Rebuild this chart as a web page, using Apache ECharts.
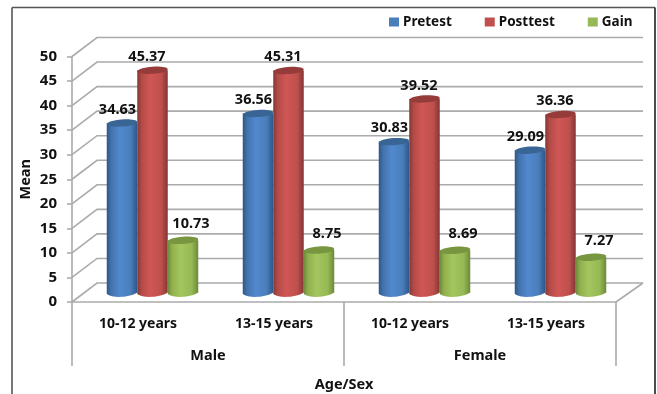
<!DOCTYPE html>
<html>
<head>
<meta charset="utf-8">
<style>html,body{margin:0;padding:0;background:#fff}#c{width:657px;height:394px}</style>
<script src="https://cdn.jsdelivr.net/npm/echarts@6/dist/echarts.min.js"></script>
</head>
<body>
<div id="c"></div>
<script>
var ageGroups = ['10-12 years', '13-15 years', '10-12 years', '13-15 years'];
var sexGroups = ['Male', 'Female'];
var pretest = [34.63, 36.56, 30.83, 29.09];
var posttest = [45.37, 45.31, 39.52, 36.36];
var gain = [10.73, 8.75, 8.69, 7.27];
var yTicks = [0, 5, 10, 15, 20, 25, 30, 35, 40, 45, 50];

var FONT = '"Noto Sans", sans-serif';
var GRID_COLOR = '#ABABAB';
var DEPTH_X = 25, DEPTH_Y = -19;
var BAR_SHIFT_X = 12.5, BAR_SHIFT_Y = -9;
var BAR_W = 30.5, RY = 3.6;

var chart = echarts.init(document.getElementById('c'), null, {renderer: 'canvas'});

function wallItem(params, api) {
  var v = api.value(1);
  var y = api.coord([0, v])[1];
  var cs = params.coordSys;
  var x0 = cs.x, x1 = cs.x + cs.width;
  var children = [{
    type: 'polyline',
    shape: {points: [[x0, y], [x0 + DEPTH_X, y + DEPTH_Y], [x1 + DEPTH_X + 2, y + DEPTH_Y]]},
    style: {stroke: GRID_COLOR, lineWidth: 1.6, fill: null}
  }];
  if (v === 0) {
    children.push({
      type: 'line',
      shape: {x1: x1, y1: y, x2: x1 + DEPTH_X + 2, y2: y + DEPTH_Y},
      style: {stroke: GRID_COLOR, lineWidth: 1.6}
    });
  }
  return {type: 'group', children: children};
}

function cylinderSeries(name, values, slot, colors, labelDx, labelDy) {
  return {
    name: name,
    type: 'custom',
    coordinateSystem: 'cartesian2d',
    itemStyle: {color: colors.main},
    clip: false,
    z: 3 + slot,
    data: values.map(function (v, i) { return [i, v]; }),
    encode: {x: 0, y: 1},
    renderItem: function (params, api) {
      var top = api.coord([api.value(0), api.value(1)]);
      var base = api.coord([api.value(0), 0]);
      var cx = top[0] + BAR_SHIFT_X + slot * BAR_W;
      var ty = top[1] + BAR_SHIFT_Y;
      var by = base[1] + BAR_SHIFT_Y + 1;
      var l = cx - BAR_W / 2;
      var grad = new echarts.graphic.LinearGradient(0, 0, 1, 0, [
        {offset: 0, color: colors.edge},
        {offset: 0.14, color: colors.mid},
        {offset: 0.42, color: colors.light},
        {offset: 0.78, color: colors.main},
        {offset: 1, color: colors.edge}
      ]);
      return {
        type: 'group',
        children: [
          {
            type: 'path',
            shape: {
              pathData: 'M' + l + ' ' + ty + 'L' + l + ' ' + by +
                'C' + (l + 6) + ' ' + (by + RY + 1) + ' ' + (l + BAR_W - 8) + ' ' + (by + RY) + ' ' + (l + BAR_W) + ' ' + (by - 1.5) +
                'L' + (l + BAR_W) + ' ' + ty + 'Z',
              layout: 'none'
            },
            style: {fill: grad}
          },
          {
            type: 'ellipse',
            shape: {cx: cx, cy: ty, rx: BAR_W / 2, ry: RY},
            rotation: 0.07,
            originX: cx,
            originY: ty,
            style: {fill: colors.top}
          },
          {
            type: 'text',
            z2: 50,
            style: {
              text: api.value(1).toFixed(2),
              x: cx + labelDx,
              y: ty + labelDy,
              align: 'center',
              verticalAlign: 'middle',
              fill: '#111',
              font: 'bold 14.5px ' + FONT
            }
          }
        ]
      };
    }
  };
}

var blue = {main: '#4A7EBB', mid: '#4272AB', light: '#5289CE', edge: '#2E5686', top: '#386594'};
var red = {main: '#C0504D', mid: '#B34A47', light: '#CF5755', edge: '#843634', top: '#953C3A'};
var green = {main: '#97B955', mid: '#90B04F', light: '#A4C65E', edge: '#6C8A38', top: '#78953F'};

chart.setOption({
  animation: false,
  backgroundColor: '#ffffff',
  textStyle: {fontFamily: FONT},
  graphic: [
    {type: 'line', shape: {x1: 12, y1: 7.5, x2: 12, y2: 394}, style: {stroke: '#777', lineWidth: 2}},
    {type: 'line', shape: {x1: 12, y1: 7.5, x2: 655, y2: 7.5}, style: {stroke: '#555', lineWidth: 1.5}},
    {type: 'line', shape: {x1: 655, y1: 7.5, x2: 655, y2: 394}, style: {stroke: '#111', lineWidth: 1.5}}
  ],
  legend: {
    data: ['Pretest', 'Posttest', 'Gain'],
    left: 389,
    top: 15,
    padding: 0,
    itemWidth: 10,
    itemHeight: 9,
    itemGap: 33,
    icon: 'rect',
    textStyle: {fontFamily: FONT, fontWeight: 'bold', fontSize: 13.5, color: '#111', padding: [0, 0, 0, -1]}
  },
  grid: {left: 72, top: 56.5, width: 544, height: 245.5, outerBoundsMode: 'none'},
  xAxis: [
    {
      type: 'category',
      data: ageGroups,
      position: 'bottom',
      axisLine: {show: true, lineStyle: {color: GRID_COLOR, width: 1.6}},
      axisTick: {show: false},
      axisLabel: {margin: 15, padding: [0, 4, 0, 0], fontFamily: FONT, fontWeight: 'bold', fontSize: 14, color: '#111', interval: 0}
    },
    {
      type: 'category',
      data: sexGroups,
      position: 'bottom',
      axisLine: {show: false},
      axisTick: {show: true, length: 64, lineStyle: {color: GRID_COLOR, width: 1.6}},
      axisLabel: {margin: 46, fontFamily: FONT, fontWeight: 'bold', fontSize: 14.5, color: '#111', interval: 0},
      name: 'Age/Sex',
      nameLocation: 'middle',
      nameGap: 75,
      nameMoveOverlap: false,
      nameTextStyle: {fontFamily: FONT, fontWeight: 'bold', fontSize: 14.5, color: '#111'}
    }
  ],
  yAxis: {
    type: 'value',
    min: 0,
    max: 50,
    interval: 5,
    name: 'Mean',
    nameLocation: 'middle',
    nameGap: 39,
    nameMoveOverlap: false,
    nameTextStyle: {fontFamily: FONT, fontWeight: 'bold', fontSize: 14.5, color: '#111'},
    axisLine: {show: true, lineStyle: {color: GRID_COLOR, width: 1.6}},
    axisTick: {show: true, length: 5, lineStyle: {color: GRID_COLOR, width: 1.6}},
    axisLabel: {margin: 15, padding: [3, 0, 0, 0], fontFamily: FONT, fontWeight: 'bold', fontSize: 15, color: '#111'},
    splitLine: {show: false}
  },
  series: [
    {
      name: 'wall',
      type: 'custom',
      coordinateSystem: 'cartesian2d',
      clip: false,
      silent: true,
      z: 1,
      data: yTicks.map(function (v) { return [0, v]; }),
      encode: {x: 0, y: 1},
      renderItem: wallItem
    },
    cylinderSeries('Pretest', pretest, -1, blue, -4.5, -13.5),
    cylinderSeries('Posttest', posttest, 0, red, -5.5, -13.5),
    cylinderSeries('Gain', gain, 1, green, 8, -16)
  ]
});
</script>
</body>
</html>
